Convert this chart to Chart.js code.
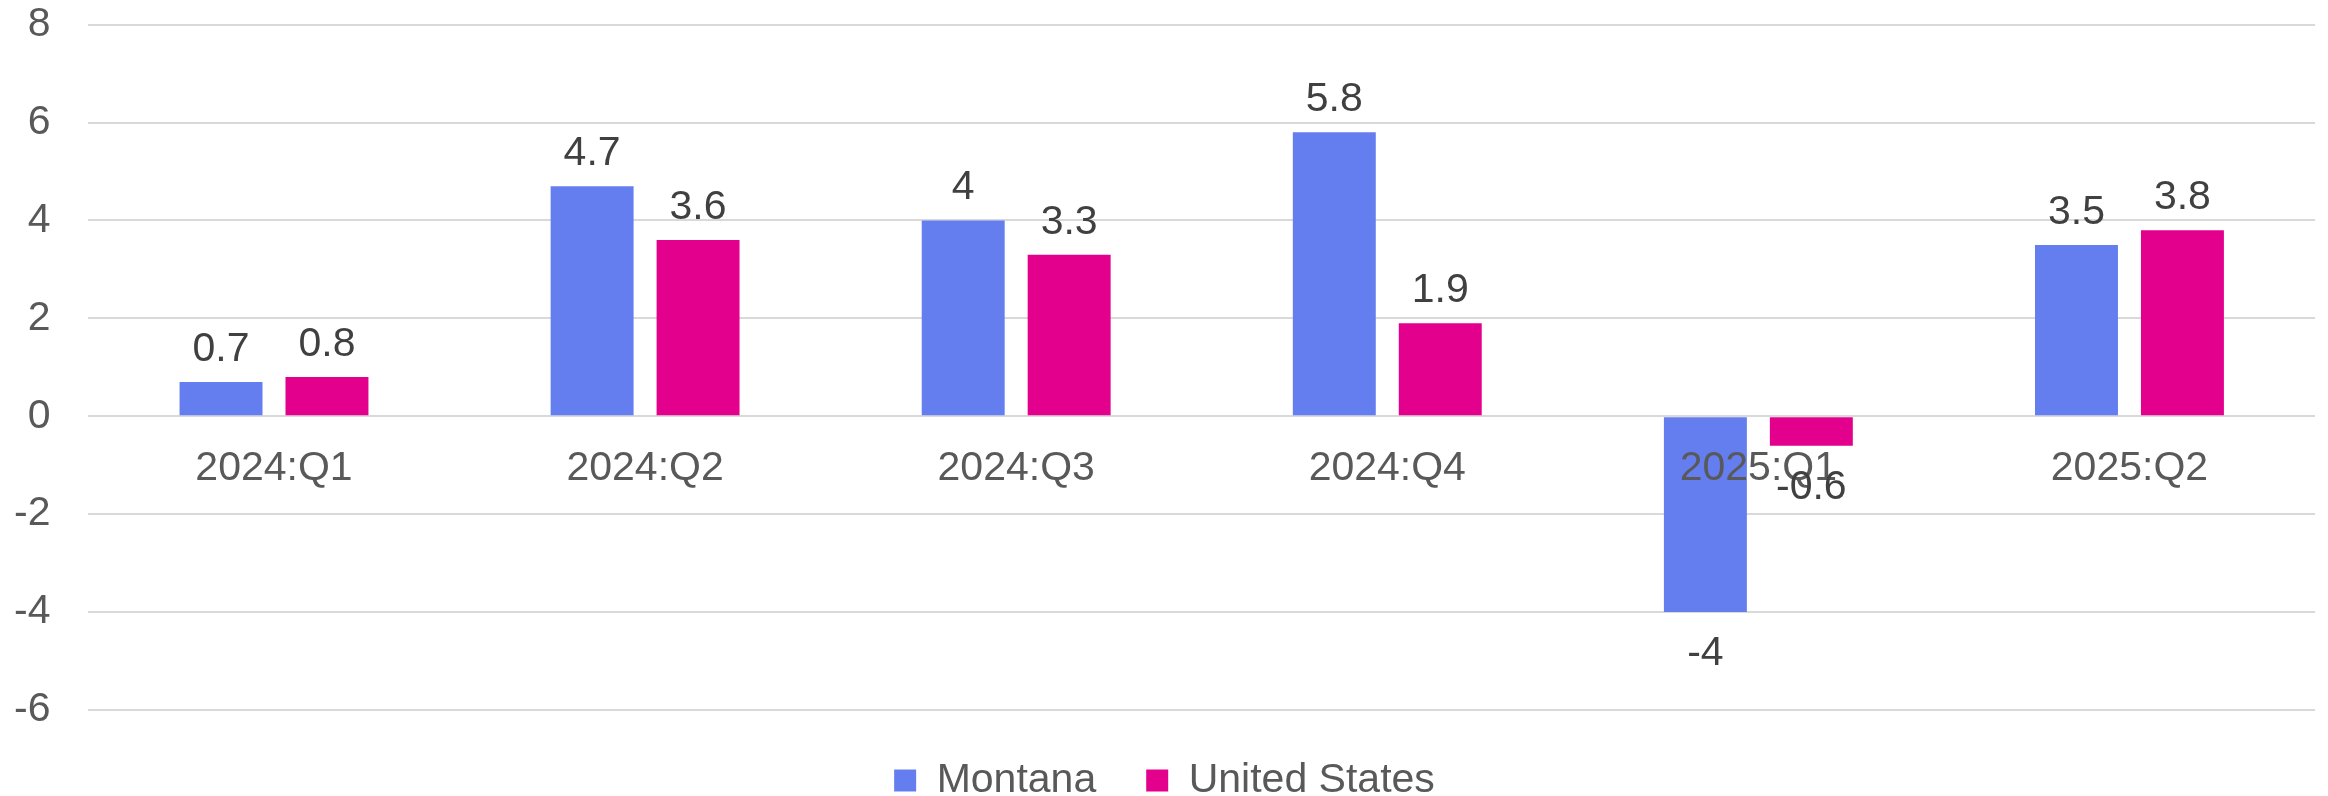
<!DOCTYPE html>
<html>
<head>
<meta charset="utf-8">
<script src="https://cdn.jsdelivr.net/npm/chart.js@4/dist/chart.umd.min.js"></script>
<style>
  html, body { margin: 0; padding: 0; background: #ffffff; }
  #wrap { width: 2328px; height: 796px; }
</style>
</head>
<body>
<div id="wrap"><canvas id="c" width="2328" height="796"></canvas></div>
<script>
const categories = ['2024:Q1', '2024:Q2', '2024:Q3', '2024:Q4', '2025:Q1', '2025:Q2'];
const montana = [0.7, 4.7, 4.0, 5.8, -4.0, 3.5];
const unitedStates = [0.8, 3.6, 3.3, 1.9, -0.6, 3.8];
const seriesNames = ['Montana', 'United States'];
const yTicks = [-6, -4, -2, 0, 2, 4, 6, 8];

const FONT = '"Liberation Sans", Arial, sans-serif';
const Y_PAD = 38;

const dataLabels = {
  id: 'dataLabels',
  afterDraw(chart) {
    const ctx = chart.ctx;
    ctx.save();
    ctx.font = '41px ' + FONT;
    ctx.fillStyle = '#404040';
    ctx.textAlign = 'center';
    ctx.textBaseline = 'alphabetic';
    chart.data.datasets.forEach((ds, di) => {
      const meta = chart.getDatasetMeta(di);
      meta.data.forEach((el, i) => {
        const v = ds.data[i];
        const y = v >= 0 ? el.y - 21 : el.y + 53;
        ctx.fillText(String(v), el.x, y);
      });
    });
    ctx.restore();
  }
};

new Chart(document.getElementById('c'), {
  type: 'bar',
  data: {
    labels: categories,
    datasets: [
      { label: seriesNames[0], data: montana, backgroundColor: '#647EF0', borderWidth: 0,
        categoryPercentage: 0.571, barPercentage: 0.783 },
      { label: seriesNames[1], data: unitedStates, backgroundColor: '#E3008C', borderWidth: 0,
        categoryPercentage: 0.571, barPercentage: 0.783 }
    ]
  },
  options: {
    responsive: false,
    animation: false,
    devicePixelRatio: 1,
    layout: { padding: { left: 14, right: 13, top: 0, bottom: -15 } },
    plugins: {
      tooltip: { enabled: false },
      legend: {
        position: 'bottom',
        labels: {
          boxWidth: 22, boxHeight: 22, padding: 50,
          color: '#595959',
          font: { family: FONT, size: 41 }
        }
      }
    },
    scales: {
      x: {
        position: { y: 0 },
        grid: { display: false, drawTicks: false },
        border: { display: false },
        ticks: {
          z: 1, padding: 28, color: '#595959',
          font: { family: FONT, size: 41 }
        }
      },
      y: {
        min: -6, max: 8,
        afterBuildTicks: (s) => { s.ticks = yTicks.map(v => ({ value: v })); },
        afterFit: (s) => {
          s.width = s.width - Y_PAD;
          s.paddingTop = Math.max(s.paddingTop - Y_PAD, 0);
          s.paddingBottom = Math.max(s.paddingBottom - Y_PAD, 0);
        },
        grid: { color: '#D9D9D9', lineWidth: 2, drawTicks: false },
        border: { display: false },
        ticks: {
          padding: Y_PAD, color: '#595959',
          font: { family: FONT, size: 41 }
        }
      }
    }
  },
  plugins: [dataLabels]
});
</script>
</body>
</html>
